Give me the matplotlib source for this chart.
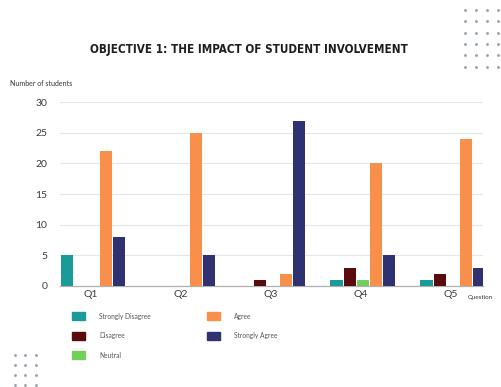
import numpy as np
import matplotlib.pyplot as plt
from matplotlib.patches import Rectangle

# data ---------------------------------------------------------------
questions = ["Q1", "Q2", "Q3", "Q4", "Q5"]
series = ["Strongly Disagree", "Disagree", "Neutral", "Agree", "Strongly Agree"]
strongly_disagree = [5, 0, 0, 1, 1]
disagree = [0, 0, 1, 3, 2]
neutral = [0, 0, 0, 1, 0]
agree = [22, 25, 2, 20, 24]
strongly_agree = [8, 5, 27, 5, 3]
colors = ["#1b9a9a", "#5a0b0e", "#72cf5b", "#f8904c", "#2f3170"]
yticks = [0, 5, 10, 15, 20, 25, 30]

values = [strongly_disagree, disagree, neutral, agree, strongly_agree]

plt.rcParams["font.family"] = ["Lato", "DejaVu Sans"]

fig = plt.figure(figsize=(5.02, 3.87), dpi=100)
ax = fig.add_axes([0.1195, 0.261, 0.8425, 0.475])

x = np.arange(len(questions))
w = 0.145
for i, (vals, col) in enumerate(zip(values, colors)):
    ax.bar(x + (i - 2) * w + 0.02, vals, width=w * 0.95, color=col, zorder=3)

ax.set_ylim(0, 30)
ax.set_xlim(-0.345, 4.355)
ax.set_yticks(yticks)
ax.set_xticks(x)
ax.set_xticklabels(questions)
ax.tick_params(axis="y", length=0, pad=9, labelsize=7.5, labelcolor="#3a3a3a")
ax.tick_params(axis="x", length=0, pad=3, labelsize=7.5, labelcolor="#3a3a3a")
ax.grid(axis="y", color="#e6e6e6", linewidth=0.8, zorder=0)
for s in ["top", "right", "left"]:
    ax.spines[s].set_visible(False)
ax.spines["bottom"].set_color("#b0b0b0")
ax.spines["bottom"].set_linewidth(0.9)

# titles
fig.text(0.495, 1 - 49 / 387, "OBJECTIVE 1: THE IMPACT OF STUDENT INVOLVEMENT",
         ha="center", va="center", fontsize=8.4, fontweight="heavy",
         fontstretch="condensed", family=["DejaVu Sans"], color="#1e1e1e")
fig.text(10 / 502, 1 - 84 / 387, "Number of students", ha="left", va="center",
         fontsize=5, color="#333333")
fig.text(468 / 502, 1 - 298 / 387, "Question", ha="left", va="center",
         fontsize=4.5, color="#333333")

# legend, filled column by column
for i, (name, col) in enumerate(zip(series, colors)):
    cx = 72 / 502 + (i // 3) * 135 / 502
    cy = 1 - (316 + (i % 3) * 19.5) / 387
    fig.add_artist(Rectangle((cx, cy - 4 / 387), 13 / 502, 8 / 387,
                             transform=fig.transFigure, color=col))
    fig.text(cx + 27 / 502, cy, name, ha="left", va="center",
             fontsize=4.8, color="#555555")

# decorative dot grids
deco = fig.add_axes([0, 0, 1, 1], facecolor="none")
deco.set_xlim(0, 502)
deco.set_ylim(387, 0)
deco.axis("off")
gx, gy = np.meshgrid(465 + np.arange(4) * 11, 10 + np.arange(6) * 11.3)
deco.scatter(gx.ravel(), gy.ravel(), s=1.2, color="#9aa6b2")
gx, gy = np.meshgrid(15 + np.arange(3) * 10.5, 355 + np.arange(4) * 10)
deco.scatter(gx.ravel(), gy.ravel(), s=1.2, color="#9aa6b2")

fig.savefig("out.png", dpi=100)
